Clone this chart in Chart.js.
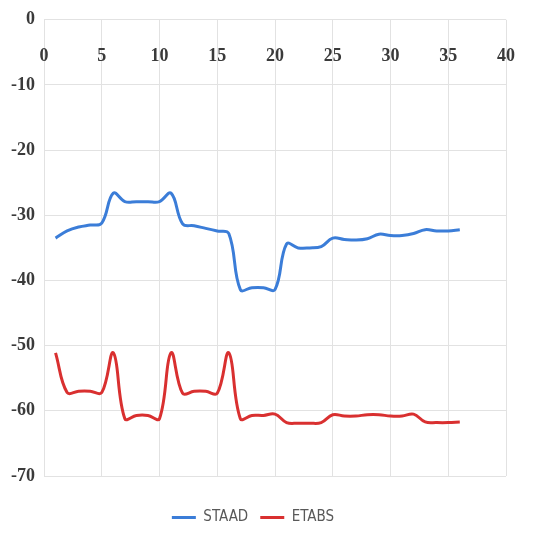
<!DOCTYPE html>
<html>
<head>
    <title>STAAD vs ETABS</title>
    <script src="https://cdn.jsdelivr.net/npm/chart.js"></script>
    <style>
        html, body {
            margin: 0;
            padding: 0;
            background: #ffffff;
        }
        #wrap {
            width: 556px;
            height: 535px;
        }
    </style>
</head>
<body>
    <div id="wrap">
        <canvas id="chart" width="556" height="535"></canvas>
    </div>

    <script>
        // Values
        const storeys = [1, 2, 3, 4, 5, 6, 7, 8, 9, 10, 11, 12, 13, 14, 15, 16, 17, 18,
                         19, 20, 21, 22, 23, 24, 25, 26, 27, 28, 29, 30, 31, 32, 33, 34, 35, 36];
        const staad = [-33.5, -32.4, -31.8, -31.5, -31.2, -26.6, -27.9, -27.9, -27.9, -27.9, -26.6, -31.3,
                       -31.6, -32.0, -32.4, -32.8, -41.4, -41.1, -41.1, -41.4, -34.4, -35.0, -35.0, -34.8,
                       -33.5, -33.7, -33.8, -33.6, -32.9, -33.1, -33.1, -32.8, -32.2, -32.4, -32.4, -32.2];
        const etabs = [-51.1, -57.2, -57.0, -57.0, -57.2, -51.1, -61.2, -60.7, -60.7, -61.2, -51.1, -57.3,
                       -57.0, -57.0, -57.3, -51.1, -61.2, -60.7, -60.7, -60.5, -61.8, -61.9, -61.9, -61.8,
                       -60.6, -60.8, -60.8, -60.6, -60.6, -60.8, -60.8, -60.5, -61.7, -61.8, -61.8, -61.7];
        const xTicks = [0, 5, 10, 15, 20, 25, 30, 35, 40];
        const yTicks = [0, -10, -20, -30, -40, -50, -60, -70];

        const toPoints = values => values.map((v, i) => ({ x: storeys[i], y: v }));

        const tickFont = { family: 'Liberation Serif', weight: 'bold', size: 18 };
        const gridColor = '#e2e2e2';

        new Chart(document.getElementById('chart').getContext('2d'), {
            type: 'line',
            data: {
                datasets: [
                    { label: 'STAAD', data: toPoints(staad), borderColor: '#3b7dd8', backgroundColor: '#3b7dd8',
                      borderWidth: 3, pointRadius: 0, tension: 0.4, fill: false },
                    { label: 'ETABS', data: toPoints(etabs), borderColor: '#d93030', backgroundColor: '#d93030',
                      borderWidth: 3, pointRadius: 0, tension: 0.4, fill: false }
                ]
            },
            options: {
                responsive: false,
                animation: false,
                layout: { padding: { top: 16, right: 50, bottom: 0, left: 0 } },
                plugins: {
                    tooltip: { enabled: false },
                    legend: {
                        position: 'bottom',
                        title: { display: true, text: '', font: { size: 1, lineHeight: 1 }, padding: { top: 21, bottom: 0 } },
                        labels: {
                            usePointStyle: true,
                            pointStyle: 'line',
                            pointStyleWidth: 24,
                            padding: 12,
                            color: '#595959',
                            font: { family: "'DejaVu Sans Condensed', 'Liberation Sans Narrow', sans-serif", size: 15 }
                        }
                    }
                },
                scales: {
                    x: {
                        type: 'linear',
                        position: { y: 0 },
                        min: 0,
                        max: 40,
                        afterFit: scale => { scale.height = 0; },
                        afterBuildTicks: scale => { scale.ticks = xTicks.map(v => ({ value: v })); },
                        grid: { color: gridColor, drawTicks: false },
                        border: { display: false },
                        ticks: { padding: 26, color: '#3a3a3a', font: tickFont, maxRotation: 0 }
                    },
                    y: {
                        min: -70,
                        max: 0,
                        afterFit: scale => { scale.width = 44; },
                        afterBuildTicks: scale => { scale.ticks = yTicks.map(v => ({ value: v })); },
                        grid: { color: gridColor, drawTicks: false },
                        border: { display: false },
                        ticks: { padding: 9, color: '#3a3a3a', font: tickFont }
                    }
                }
            }
        });
    </script>
</body>
</html>
